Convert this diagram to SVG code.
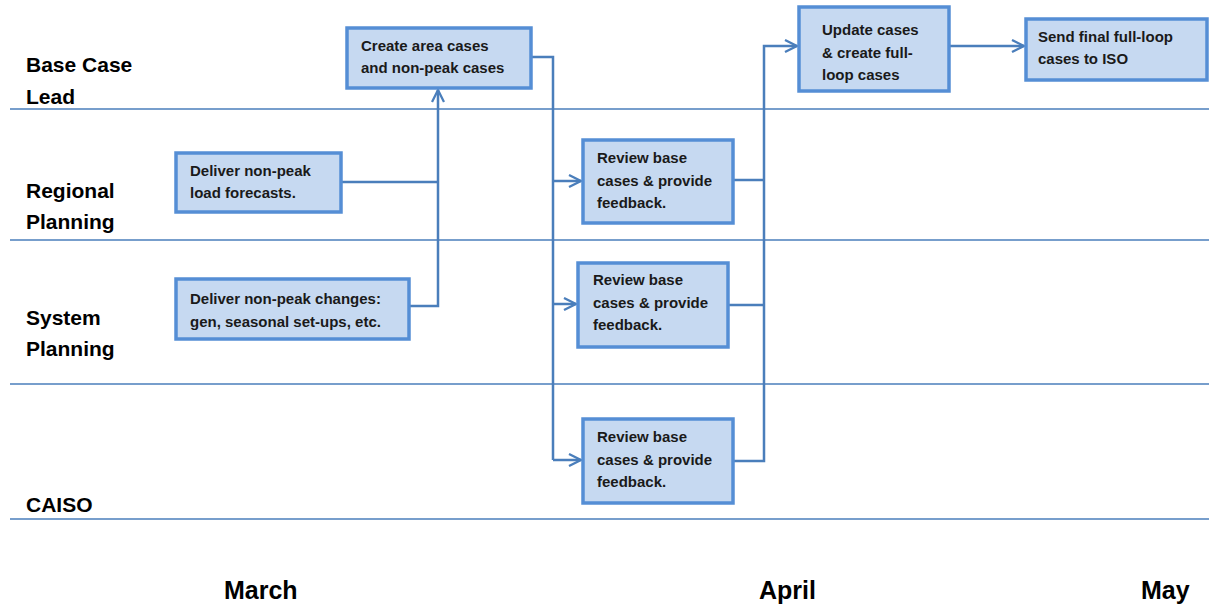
<svg xmlns="http://www.w3.org/2000/svg" width="1209" height="605" viewBox="0 0 1209 605">
<style>
.lane{stroke:#4a7ebb;stroke-width:1.3;fill:none}
.lbl{font-family:"Liberation Sans",Arial,sans-serif;font-weight:bold;font-size:21px;fill:#000}
.mon{font-family:"Liberation Sans",Arial,sans-serif;font-weight:bold;font-size:25px;fill:#000}
.box{fill:#c6d9f1;stroke:#558ed5;stroke-width:3.5}
.t{font-family:"Liberation Sans",Arial,sans-serif;font-weight:bold;font-size:15px;fill:#1a1a1a}
.c{fill:none;stroke:#4a7ebb;stroke-width:2.5}
</style>
<defs>
<marker id="ah" viewBox="0 0 14 14" refX="13" refY="7" markerWidth="14" markerHeight="14" markerUnits="userSpaceOnUse" orient="auto">
<path d="M1,1 L13,7 L1,13" fill="none" stroke="#4a7ebb" stroke-width="2.3"/>
</marker>
</defs>
<rect width="1209" height="605" fill="#fff"/>
<g id="lanes">
<line class="lane" x1="10" y1="109" x2="1209" y2="109"/>
<line class="lane" x1="10" y1="240" x2="1209" y2="240"/>
<line class="lane" x1="10" y1="384" x2="1209" y2="384"/>
<line class="lane" x1="10" y1="519" x2="1209" y2="519"/>
<text class="lbl" x="26" y="72">Base Case</text>
<text class="lbl" x="26" y="104">Lead</text>
<text class="lbl" x="26" y="198">Regional</text>
<text class="lbl" x="26" y="229">Planning</text>
<text class="lbl" x="26" y="325">System</text>
<text class="lbl" x="26" y="356">Planning</text>
<text class="lbl" x="26" y="512">CAISO</text>
<text class="mon" x="224" y="599">March</text>
<text class="mon" x="759" y="599">April</text>
<text class="mon" x="1141" y="599">May</text>
</g>
<g id="connectors">
<path class="c" d="M530,57 H553 V460"/>
<path class="c" d="M553,181 H581" marker-end="url(#ah)"/>
<path class="c" d="M553,304 H576" marker-end="url(#ah)"/>
<path class="c" d="M553,460 H581" marker-end="url(#ah)"/>
<path class="c" d="M341,182 H438"/>
<path class="c" d="M409,306 H438 V90" marker-end="url(#ah)"/>
<path class="c" d="M733,180 H764"/>
<path class="c" d="M728,305 H764"/>
<path class="c" d="M733,461 H764 V46 H797" marker-end="url(#ah)"/>
<path class="c" d="M950,46 H1024" marker-end="url(#ah)"/>
</g>
<g id="n-create">
<rect class="box" x="347" y="28" width="184" height="60"/>
<text class="t" x="361" y="51">Create area cases</text>
<text class="t" x="361" y="73">and non-peak cases</text>
</g>
<g id="n-load">
<rect class="box" x="176" y="153" width="165" height="59"/>
<text class="t" x="190" y="176">Deliver non-peak</text>
<text class="t" x="190" y="198">load forecasts.</text>
</g>
<g id="n-changes">
<rect class="box" x="176" y="279" width="233" height="60"/>
<text class="t" x="190" y="304">Deliver non-peak changes:</text>
<text class="t" x="190" y="327">gen, seasonal set-ups, etc.</text>
</g>
<g id="n-review-rp">
<rect class="box" x="583" y="140" width="150" height="83"/>
<text class="t" x="597" y="163">Review base</text>
<text class="t" x="597" y="186">cases &amp; provide</text>
<text class="t" x="597" y="208">feedback.</text>
</g>
<g id="n-review-sp">
<rect class="box" x="578" y="263" width="150" height="84"/>
<text class="t" x="593" y="285">Review base</text>
<text class="t" x="593" y="308">cases &amp; provide</text>
<text class="t" x="593" y="330">feedback.</text>
</g>
<g id="n-review-caiso">
<rect class="box" x="583" y="419" width="150" height="84"/>
<text class="t" x="597" y="442">Review base</text>
<text class="t" x="597" y="465">cases &amp; provide</text>
<text class="t" x="597" y="487">feedback.</text>
</g>
<g id="n-update">
<rect class="box" x="799" y="7" width="150" height="84"/>
<text class="t" x="822" y="35">Update cases</text>
<text class="t" x="822" y="58">&amp; create full-</text>
<text class="t" x="822" y="80">loop cases</text>
</g>
<g id="n-send">
<rect class="box" x="1026" y="19" width="181" height="61"/>
<text class="t" x="1038" y="42">Send final full-loop</text>
<text class="t" x="1038" y="64">cases to ISO</text>
</g>
</svg>
